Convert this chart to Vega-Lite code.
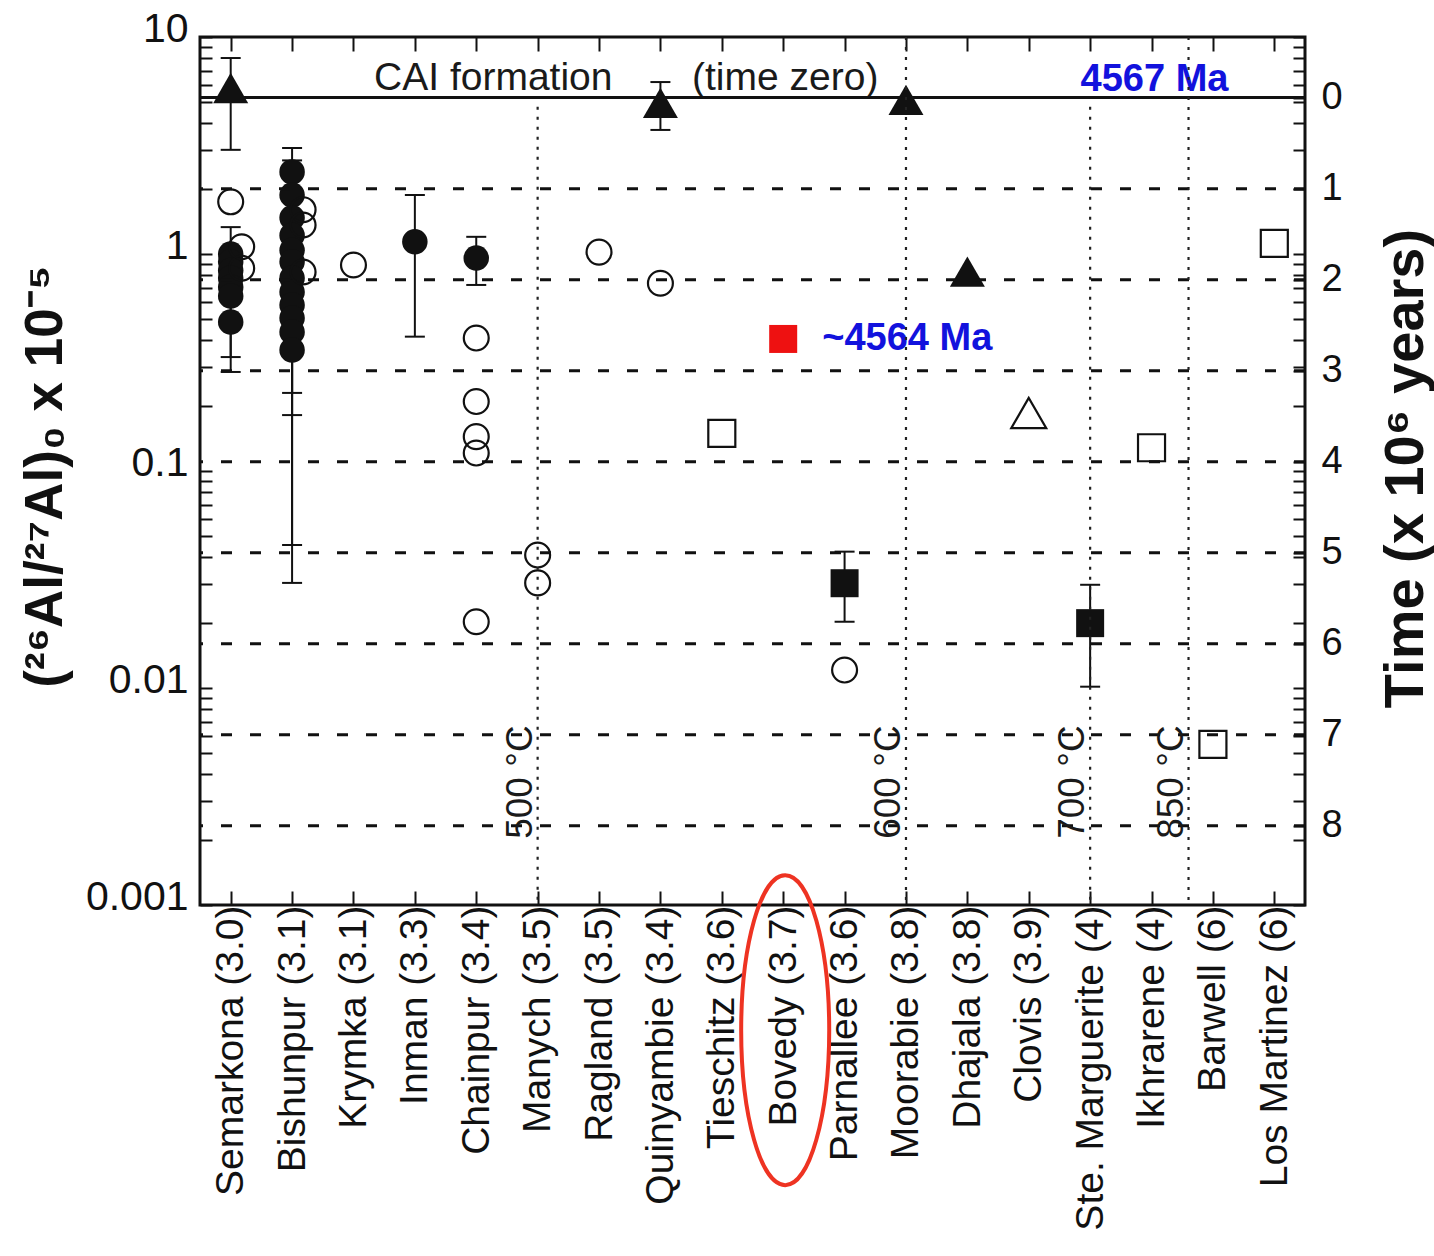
{
"$schema":"https://vega.github.io/schema/vega-lite/v6.json",
"width":1105,"height":868,"autosize":"none",
"padding":{"left":200,"top":37,"right":129,"bottom":351},
"background":"white",
"config":{"view":{"stroke":"#111","strokeWidth":3},"font":"Liberation Sans","axis":{"labelFont":"Liberation Sans","titleFont":"Liberation Sans","labelColor":"#111","titleColor":"#111","tickColor":"#111","labelOverlap":false},"text":{"font":"Liberation Sans"}},
"datasets":{
"points":[
{"name":"Semarkona (3.0)","v":5.82,"kind":"filled triangle"},
{"name":"Semarkona (3.0)","v":1.74,"kind":"open circle"},
{"name":"Semarkona (3.0)","v":1.0,"kind":"filled circle"},
{"name":"Semarkona (3.0)","v":0.92,"kind":"filled circle"},
{"name":"Semarkona (3.0)","v":0.84,"kind":"filled circle"},
{"name":"Semarkona (3.0)","v":0.775,"kind":"filled circle"},
{"name":"Semarkona (3.0)","v":0.705,"kind":"filled circle"},
{"name":"Semarkona (3.0)","v":0.64,"kind":"filled circle"},
{"name":"Semarkona (3.0)","v":0.486,"kind":"filled circle"},
{"name":"Semarkona (3.0)","v":1.08,"kind":"open circle"},
{"name":"Semarkona (3.0)","v":0.86,"kind":"open circle"},
{"name":"Bishunpur (3.1)","v":2.39,"kind":"filled circle"},
{"name":"Bishunpur (3.1)","v":1.87,"kind":"filled circle"},
{"name":"Bishunpur (3.1)","v":1.47,"kind":"filled circle"},
{"name":"Bishunpur (3.1)","v":1.22,"kind":"filled circle"},
{"name":"Bishunpur (3.1)","v":1.04,"kind":"filled circle"},
{"name":"Bishunpur (3.1)","v":0.92,"kind":"filled circle"},
{"name":"Bishunpur (3.1)","v":0.775,"kind":"filled circle"},
{"name":"Bishunpur (3.1)","v":0.668,"kind":"filled circle"},
{"name":"Bishunpur (3.1)","v":0.582,"kind":"filled circle"},
{"name":"Bishunpur (3.1)","v":0.507,"kind":"filled circle"},
{"name":"Bishunpur (3.1)","v":0.437,"kind":"filled circle"},
{"name":"Bishunpur (3.1)","v":0.361,"kind":"filled circle"},
{"name":"Bishunpur (3.1)","v":1.6,"kind":"open circle"},
{"name":"Bishunpur (3.1)","v":1.36,"kind":"open circle"},
{"name":"Bishunpur (3.1)","v":0.826,"kind":"open circle"},
{"name":"Krymka (3.1)","v":0.89,"kind":"open circle"},
{"name":"Inman (3.3)","v":1.14,"kind":"filled circle"},
{"name":"Chainpur (3.4)","v":0.958,"kind":"filled circle"},
{"name":"Chainpur (3.4)","v":0.41,"kind":"open circle"},
{"name":"Chainpur (3.4)","v":0.209,"kind":"open circle"},
{"name":"Chainpur (3.4)","v":0.144,"kind":"open circle"},
{"name":"Chainpur (3.4)","v":0.121,"kind":"open circle"},
{"name":"Chainpur (3.4)","v":0.0202,"kind":"open circle"},
{"name":"Manych (3.5)","v":0.041,"kind":"open circle"},
{"name":"Manych (3.5)","v":0.0305,"kind":"open circle"},
{"name":"Ragland (3.5)","v":1.02,"kind":"open circle"},
{"name":"Quinyambie (3.4)","v":4.97,"kind":"filled triangle"},
{"name":"Quinyambie (3.4)","v":0.733,"kind":"open circle"},
{"name":"Tieschitz (3.6)","v":0.149,"kind":"open square"},
{"name":"Bovedy (3.7)","v":0.406,"kind":"red square"},
{"name":"Parnallee (3.6)","v":0.0304,"kind":"filled square"},
{"name":"Parnallee (3.6)","v":0.0121,"kind":"open circle"},
{"name":"Moorabie (3.8)","v":5.13,"kind":"filled triangle"},
{"name":"Dhajala (3.8)","v":0.83,"kind":"filled triangle"},
{"name":"Clovis (3.9)","v":0.185,"kind":"open triangle"},
{"name":"Ste. Marguerite (4)","v":0.0199,"kind":"filled square"},
{"name":"Ikhrarene (4)","v":0.128,"kind":"open square"},
{"name":"Barwell (6)","v":0.0055,"kind":"open square"},
{"name":"Los Martinez (6)","v":1.12,"kind":"open square"}
],
"errors":[
{"name":"Semarkona (3.0)","lo":3.02,"hi":8.0},
{"name":"Semarkona (3.0)","lo":0.286,"hi":1.33},
{"name":"Semarkona (3.0)","lo":0.335,"hi":1.0},
{"name":"Bishunpur (3.1)","lo":0.0305,"hi":3.08},
{"name":"Bishunpur (3.1)","lo":0.0456,"hi":2.7},
{"name":"Bishunpur (3.1)","lo":0.181,"hi":1.0},
{"name":"Bishunpur (3.1)","lo":0.229,"hi":0.9},
{"name":"Inman (3.3)","lo":0.416,"hi":1.87},
{"name":"Chainpur (3.4)","lo":0.72,"hi":1.2},
{"name":"Quinyambie (3.4)","lo":3.73,"hi":6.2},
{"name":"Parnallee (3.6)","lo":0.0202,"hi":0.0425},
{"name":"Ste. Marguerite (4)","lo":0.01014,"hi":0.0299}
],
"notes":[
{"name":"Chainpur (3.4)","v":6.5,"text":"CAI formation"},
{"name":"Bovedy (3.7)","v":6.5,"text":"(time zero)"},
{"name":"Ikhrarene (4)","v":6.34,"text":"4567 Ma"},
{"name":"Bovedy (3.7)","v":0.406,"text":"~4564 Ma"}
],
"highlight":[{"name":"Bovedy (3.7)","v":0.000265}],
"times":[{"t":0},{"t":1},{"t":2},{"t":3},{"t":4},{"t":5},{"t":6},{"t":7},{"t":8}],
"temps":[
{"name":"Manych (3.5)","temp":"500 °C"},
{"name":"Moorabie (3.8)","temp":"600 °C"},
{"name":"Ste. Marguerite (4)","temp":"700 °C"},
{"name":"Ikhrarene (4)","temp":"850 °C"}
]
},
"layer":[
{
"encoding":{
"x":{"field":"name","type":"nominal","scale":{"type":"point","padding":0.5,"domain":["Semarkona (3.0)","Bishunpur (3.1)","Krymka (3.1)","Inman (3.3)","Chainpur (3.4)","Manych (3.5)","Ragland (3.5)","Quinyambie (3.4)","Tieschitz (3.6)","Bovedy (3.7)","Parnallee (3.6)","Moorabie (3.8)","Dhajala (3.8)","Clovis (3.9)","Ste. Marguerite (4)","Ikhrarene (4)","Barwell (6)","Los Martinez (6)"]},
"axis":{"orient":"bottom","title":null,"labelAngle":270,"labelFontSize":39,"labelPadding":14,"tickSize":-14,"tickWidth":2,"domain":false,"grid":false,"labelLimit":600,"labelOverlap":false}},
"y":{"field":"v","type":"quantitative","scale":{"type":"log","domain":[0.001,10],"nice":false},
"axis":{"orient":"left","title":"(²⁶Al/²⁷Al)₀ x 10⁻⁵","values":[0.001,0.002,0.003,0.004,0.005,0.006,0.007,0.008,0.009,0.01,0.02,0.03,0.04,0.05,0.06,0.07,0.08,0.09,0.1,0.2,0.3,0.4,0.5,0.6,0.7,0.8,0.9,1,2,3,4,5,6,7,8,9,10],"format":"~g","labelExpr":"(datum.value == 0.001 || datum.value == 0.01 || datum.value == 0.1 || datum.value == 1 || datum.value == 10) ? datum.label : ''","labelFontSize":41,"labelPadding":24,"labelOffset":-8,"tickSize":-12,"tickWidth":2,"domain":false,"grid":false,"labelOverlap":false,"labelFlush":false,"titleFontSize":53,"titleFontWeight":"bold","titleAngle":270,"titleX":-155,"titleY":439,"titleAlign":"center","titleBaseline":"middle"}}
},
"layer":[
{"data":{"name":"errors"},"mark":{"type":"rule","color":"#111","strokeWidth":2},
"encoding":{"y":{"field":"lo","type":"quantitative","scale":{"type":"log","domain":[0.001,10],"nice":false},"axis":{"orient":"left","title":"(²⁶Al/²⁷Al)₀ x 10⁻⁵","values":[0.001,0.002,0.003,0.004,0.005,0.006,0.007,0.008,0.009,0.01,0.02,0.03,0.04,0.05,0.06,0.07,0.08,0.09,0.1,0.2,0.3,0.4,0.5,0.6,0.7,0.8,0.9,1,2,3,4,5,6,7,8,9,10],"format":"~g","labelExpr":"(datum.value == 0.001 || datum.value == 0.01 || datum.value == 0.1 || datum.value == 1 || datum.value == 10) ? datum.label : ''","labelFontSize":41,"labelPadding":24,"labelOffset":-8,"tickSize":-12,"tickWidth":2,"domain":false,"grid":false,"labelOverlap":false,"labelFlush":false,"titleFontSize":53,"titleFontWeight":"bold","titleAngle":270,"titleX":-155,"titleY":439,"titleAlign":"center","titleBaseline":"middle"}},"y2":{"field":"hi"}}},
{"data":{"name":"errors"},"mark":{"type":"tick","color":"#111","thickness":2,"size":20,"opacity":1},
"encoding":{"y":{"field":"lo","type":"quantitative","scale":{"type":"log","domain":[0.001,10],"nice":false},"axis":{"orient":"left","title":"(²⁶Al/²⁷Al)₀ x 10⁻⁵","values":[0.001,0.002,0.003,0.004,0.005,0.006,0.007,0.008,0.009,0.01,0.02,0.03,0.04,0.05,0.06,0.07,0.08,0.09,0.1,0.2,0.3,0.4,0.5,0.6,0.7,0.8,0.9,1,2,3,4,5,6,7,8,9,10],"format":"~g","labelExpr":"(datum.value == 0.001 || datum.value == 0.01 || datum.value == 0.1 || datum.value == 1 || datum.value == 10) ? datum.label : ''","labelFontSize":41,"labelPadding":24,"labelOffset":-8,"tickSize":-12,"tickWidth":2,"domain":false,"grid":false,"labelOverlap":false,"labelFlush":false,"titleFontSize":53,"titleFontWeight":"bold","titleAngle":270,"titleX":-155,"titleY":439,"titleAlign":"center","titleBaseline":"middle"}}}},
{"data":{"name":"errors"},"mark":{"type":"tick","color":"#111","thickness":2,"size":20,"opacity":1},
"encoding":{"y":{"field":"hi","type":"quantitative","scale":{"type":"log","domain":[0.001,10],"nice":false},"axis":{"orient":"left","title":"(²⁶Al/²⁷Al)₀ x 10⁻⁵","values":[0.001,0.002,0.003,0.004,0.005,0.006,0.007,0.008,0.009,0.01,0.02,0.03,0.04,0.05,0.06,0.07,0.08,0.09,0.1,0.2,0.3,0.4,0.5,0.6,0.7,0.8,0.9,1,2,3,4,5,6,7,8,9,10],"format":"~g","labelExpr":"(datum.value == 0.001 || datum.value == 0.01 || datum.value == 0.1 || datum.value == 1 || datum.value == 10) ? datum.label : ''","labelFontSize":41,"labelPadding":24,"labelOffset":-8,"tickSize":-12,"tickWidth":2,"domain":false,"grid":false,"labelOverlap":false,"labelFlush":false,"titleFontSize":53,"titleFontWeight":"bold","titleAngle":270,"titleX":-155,"titleY":439,"titleAlign":"center","titleBaseline":"middle"}}}},
{"data":{"name":"points"},"transform":[{"filter":"datum.kind == 'filled circle'"}],"mark":{"type":"point","shape":"circle","filled":true,"size":650,"color":"#111","opacity":1}},
{"data":{"name":"points"},"transform":[{"filter":"datum.kind == 'open circle' && !((datum.name == 'Semarkona (3.0)' && datum.v < 1.5) || datum.name == 'Bishunpur (3.1)')"}],"mark":{"type":"point","shape":"circle","filled":false,"size":620,"color":"#111","strokeWidth":2.2,"opacity":1}},
{"data":{"name":"points"},"transform":[{"filter":"datum.kind == 'open circle' && ((datum.name == 'Semarkona (3.0)' && datum.v < 1.5) || datum.name == 'Bishunpur (3.1)')"}],"mark":{"type":"point","shape":"circle","filled":false,"size":620,"color":"#111","strokeWidth":2.2,"opacity":1,"xOffset":11}},
{"data":{"name":"points"},"transform":[{"filter":"datum.kind == 'filled triangle'"}],"mark":{"type":"point","shape":"triangle-up","filled":true,"size":1225,"color":"#111","opacity":1}},
{"data":{"name":"points"},"transform":[{"filter":"datum.kind == 'open triangle'"}],"mark":{"type":"point","shape":"triangle-up","filled":false,"size":1225,"color":"#111","strokeWidth":2.2,"opacity":1}},
{"data":{"name":"points"},"transform":[{"filter":"datum.kind == 'filled square'"}],"mark":{"type":"point","shape":"square","filled":true,"size":784,"color":"#111","opacity":1}},
{"data":{"name":"points"},"transform":[{"filter":"datum.kind == 'open square'"}],"mark":{"type":"point","shape":"square","filled":false,"size":730,"color":"#111","strokeWidth":2.2,"opacity":1}},
{"data":{"name":"points"},"transform":[{"filter":"datum.kind == 'red square'"}],"mark":{"type":"point","shape":"square","filled":true,"size":784,"color":"#ee1111","opacity":1}},
{"data":{"name":"notes"},"transform":[{"filter":"datum.text == 'CAI formation'"}],"mark":{"type":"text","fontSize":39,"color":"#1a1a1a","align":"center","baseline":"middle","dx":17},"encoding":{"text":{"field":"text"}}},
{"data":{"name":"notes"},"transform":[{"filter":"datum.text == '(time zero)'"}],"mark":{"type":"text","fontSize":39,"color":"#1a1a1a","align":"center","baseline":"middle","dx":2},"encoding":{"text":{"field":"text"}}},
{"data":{"name":"notes"},"transform":[{"filter":"datum.text == '4567 Ma'"}],"mark":{"type":"text","fontSize":38,"fontWeight":"bold","color":"#1212dd","align":"center","baseline":"middle","dx":3},"encoding":{"text":{"field":"text"}}},
{"data":{"name":"notes"},"transform":[{"filter":"datum.text == '~4564 Ma'"}],"mark":{"type":"text","fontSize":38,"fontWeight":"bold","color":"#1212dd","align":"left","baseline":"middle","dx":39},"encoding":{"text":{"field":"text"}}},
{"data":{"name":"highlight"},"mark":{"type":"point","shape":"M -0.284 0 A 0.284 1 0 1 0 0.284 0 A 0.284 1 0 1 0 -0.284 0 Z","size":96100,"filled":false,"color":"#ee3322","strokeWidth":4,"opacity":1,"xOffset":2}}
]
},
{
"layer":[
{"data":{"name":"times"},"transform":[{"filter":"datum.t > 0"}],"mark":{"type":"rule","color":"#111","strokeWidth":3,"strokeDash":[11,18]},
"encoding":{"y":{"field":"t","type":"quantitative","scale":{"type":"linear","domain":[-0.666,8.871],"reverse":true,"nice":false,"zero":false},
"axis":{"orient":"right","title":"Time (x 10⁶ years)","values":[-0.6658,-0.5567,-0.4347,-0.2965,-0.1369,0,0.0519,0.2829,0.5808,1,1.0006,1.7183,1.8274,1.9494,2,2.0876,2.2472,2.436,2.667,2.9649,3,3.3847,4,4.1024,4.2115,4.3335,4.4717,4.6313,4.8201,5,5.0511,5.349,5.7688,6,6.4865,6.5956,6.7176,6.8558,7,7.0154,7.2042,7.4352,7.7331,8,8.1529,8.8706],"labelExpr":"datum.value == floor(datum.value) ? format(datum.value, 'd') : ''","labelFontSize":38,"labelPadding":28,"tickSize":-12,"tickWidth":2,"domain":false,"grid":false,"labelOverlap":false,"labelFlush":false,"titleFontSize":56,"titleFontWeight":"bold","titleAngle":270,"titleX":100,"titleY":431,"titleAlign":"center","titleBaseline":"middle"}}}},
{"data":{"name":"times"},"transform":[{"filter":"datum.t == 0"}],"mark":{"type":"rule","color":"#111","strokeWidth":3},
"encoding":{"y":{"field":"t","type":"quantitative","scale":{"type":"linear","domain":[-0.666,8.871],"reverse":true,"nice":false,"zero":false},
"axis":{"orient":"right","title":"Time (x 10⁶ years)","values":[-0.6658,-0.5567,-0.4347,-0.2965,-0.1369,0,0.0519,0.2829,0.5808,1,1.0006,1.7183,1.8274,1.9494,2,2.0876,2.2472,2.436,2.667,2.9649,3,3.3847,4,4.1024,4.2115,4.3335,4.4717,4.6313,4.8201,5,5.0511,5.349,5.7688,6,6.4865,6.5956,6.7176,6.8558,7,7.0154,7.2042,7.4352,7.7331,8,8.1529,8.8706],"labelExpr":"datum.value == floor(datum.value) ? format(datum.value, 'd') : ''","labelFontSize":38,"labelPadding":28,"tickSize":-12,"tickWidth":2,"domain":false,"grid":false,"labelOverlap":false,"labelFlush":false,"titleFontSize":56,"titleFontWeight":"bold","titleAngle":270,"titleX":100,"titleY":431,"titleAlign":"center","titleBaseline":"middle"}}}},
{"data":{"name":"temps"},"transform":[{"filter":"datum.temp == '500 °C' || datum.temp == '700 °C'"}],"mark":{"type":"rule","color":"#222","strokeWidth":2.2,"strokeDash":[3,7]},
"encoding":{"x":{"field":"name","type":"nominal","scale":{"type":"point","padding":0.5,"domain":["Semarkona (3.0)","Bishunpur (3.1)","Krymka (3.1)","Inman (3.3)","Chainpur (3.4)","Manych (3.5)","Ragland (3.5)","Quinyambie (3.4)","Tieschitz (3.6)","Bovedy (3.7)","Parnallee (3.6)","Moorabie (3.8)","Dhajala (3.8)","Clovis (3.9)","Ste. Marguerite (4)","Ikhrarene (4)","Barwell (6)","Los Martinez (6)"]},"axis":{"orient":"top","title":null,"labels":false,"tickSize":-14,"tickWidth":2,"domain":false,"grid":false}},
"y":{"datum":0.1,"type":"quantitative","scale":{"type":"linear","domain":[-0.666,8.871],"reverse":true,"nice":false,"zero":false},
"axis":{"orient":"right","title":"Time (x 10⁶ years)","values":[-0.6658,-0.5567,-0.4347,-0.2965,-0.1369,0,0.0519,0.2829,0.5808,1,1.0006,1.7183,1.8274,1.9494,2,2.0876,2.2472,2.436,2.667,2.9649,3,3.3847,4,4.1024,4.2115,4.3335,4.4717,4.6313,4.8201,5,5.0511,5.349,5.7688,6,6.4865,6.5956,6.7176,6.8558,7,7.0154,7.2042,7.4352,7.7331,8,8.1529,8.8706],"labelExpr":"datum.value == floor(datum.value) ? format(datum.value, 'd') : ''","labelFontSize":38,"labelPadding":28,"tickSize":-12,"tickWidth":2,"domain":false,"grid":false,"labelOverlap":false,"labelFlush":false,"titleFontSize":56,"titleFontWeight":"bold","titleAngle":270,"titleX":100,"titleY":431,"titleAlign":"center","titleBaseline":"middle"}},"y2":{"datum":8.871}}},
{"data":{"name":"temps"},"transform":[{"filter":"datum.temp == '600 °C'"}],"mark":{"type":"rule","color":"#222","strokeWidth":2.2,"strokeDash":[3,7]},
"encoding":{"x":{"field":"name","type":"nominal","scale":{"type":"point","padding":0.5,"domain":["Semarkona (3.0)","Bishunpur (3.1)","Krymka (3.1)","Inman (3.3)","Chainpur (3.4)","Manych (3.5)","Ragland (3.5)","Quinyambie (3.4)","Tieschitz (3.6)","Bovedy (3.7)","Parnallee (3.6)","Moorabie (3.8)","Dhajala (3.8)","Clovis (3.9)","Ste. Marguerite (4)","Ikhrarene (4)","Barwell (6)","Los Martinez (6)"]},"axis":{"orient":"top","title":null,"labels":false,"tickSize":-14,"tickWidth":2,"domain":false,"grid":false}}}},
{"data":{"name":"temps"},"transform":[{"filter":"datum.temp == '850 °C'"}],"mark":{"type":"rule","color":"#222","strokeWidth":2.2,"strokeDash":[3,7],"xOffset":37},
"encoding":{"x":{"field":"name","type":"nominal","scale":{"type":"point","padding":0.5,"domain":["Semarkona (3.0)","Bishunpur (3.1)","Krymka (3.1)","Inman (3.3)","Chainpur (3.4)","Manych (3.5)","Ragland (3.5)","Quinyambie (3.4)","Tieschitz (3.6)","Bovedy (3.7)","Parnallee (3.6)","Moorabie (3.8)","Dhajala (3.8)","Clovis (3.9)","Ste. Marguerite (4)","Ikhrarene (4)","Barwell (6)","Los Martinez (6)"]},"axis":{"orient":"top","title":null,"labels":false,"tickSize":-14,"tickWidth":2,"domain":false,"grid":false}}}},
{"data":{"name":"temps"},"transform":[{"filter":"datum.temp != '850 °C'"}],"mark":{"type":"text","fontSize":37,"color":"#1a1a1a","angle":270,"align":"center","baseline":"alphabetic","dy":-6},
"encoding":{"x":{"field":"name","type":"nominal","scale":{"type":"point","padding":0.5,"domain":["Semarkona (3.0)","Bishunpur (3.1)","Krymka (3.1)","Inman (3.3)","Chainpur (3.4)","Manych (3.5)","Ragland (3.5)","Quinyambie (3.4)","Tieschitz (3.6)","Bovedy (3.7)","Parnallee (3.6)","Moorabie (3.8)","Dhajala (3.8)","Clovis (3.9)","Ste. Marguerite (4)","Ikhrarene (4)","Barwell (6)","Los Martinez (6)"]},"axis":{"orient":"top","title":null,"labels":false,"tickSize":-14,"tickWidth":2,"domain":false,"grid":false}},
"y":{"datum":7.52,"type":"quantitative","scale":{"type":"linear","domain":[-0.666,8.871],"reverse":true,"nice":false,"zero":false},
"axis":{"orient":"right","title":"Time (x 10⁶ years)","values":[-0.6658,-0.5567,-0.4347,-0.2965,-0.1369,0,0.0519,0.2829,0.5808,1,1.0006,1.7183,1.8274,1.9494,2,2.0876,2.2472,2.436,2.667,2.9649,3,3.3847,4,4.1024,4.2115,4.3335,4.4717,4.6313,4.8201,5,5.0511,5.349,5.7688,6,6.4865,6.5956,6.7176,6.8558,7,7.0154,7.2042,7.4352,7.7331,8,8.1529,8.8706],"labelExpr":"datum.value == floor(datum.value) ? format(datum.value, 'd') : ''","labelFontSize":38,"labelPadding":28,"tickSize":-12,"tickWidth":2,"domain":false,"grid":false,"labelOverlap":false,"labelFlush":false,"titleFontSize":56,"titleFontWeight":"bold","titleAngle":270,"titleX":100,"titleY":431,"titleAlign":"center","titleBaseline":"middle"}},"text":{"field":"temp"}}},
{"data":{"name":"temps"},"transform":[{"filter":"datum.temp == '850 °C'"}],"mark":{"type":"text","fontSize":37,"color":"#1a1a1a","angle":270,"align":"center","baseline":"alphabetic","dy":-6,"xOffset":37},
"encoding":{"x":{"field":"name","type":"nominal","scale":{"type":"point","padding":0.5,"domain":["Semarkona (3.0)","Bishunpur (3.1)","Krymka (3.1)","Inman (3.3)","Chainpur (3.4)","Manych (3.5)","Ragland (3.5)","Quinyambie (3.4)","Tieschitz (3.6)","Bovedy (3.7)","Parnallee (3.6)","Moorabie (3.8)","Dhajala (3.8)","Clovis (3.9)","Ste. Marguerite (4)","Ikhrarene (4)","Barwell (6)","Los Martinez (6)"]},"axis":{"orient":"top","title":null,"labels":false,"tickSize":-14,"tickWidth":2,"domain":false,"grid":false}},
"y":{"datum":7.52,"type":"quantitative","scale":{"type":"linear","domain":[-0.666,8.871],"reverse":true,"nice":false,"zero":false},
"axis":{"orient":"right","title":"Time (x 10⁶ years)","values":[-0.6658,-0.5567,-0.4347,-0.2965,-0.1369,0,0.0519,0.2829,0.5808,1,1.0006,1.7183,1.8274,1.9494,2,2.0876,2.2472,2.436,2.667,2.9649,3,3.3847,4,4.1024,4.2115,4.3335,4.4717,4.6313,4.8201,5,5.0511,5.349,5.7688,6,6.4865,6.5956,6.7176,6.8558,7,7.0154,7.2042,7.4352,7.7331,8,8.1529,8.8706],"labelExpr":"datum.value == floor(datum.value) ? format(datum.value, 'd') : ''","labelFontSize":38,"labelPadding":28,"tickSize":-12,"tickWidth":2,"domain":false,"grid":false,"labelOverlap":false,"labelFlush":false,"titleFontSize":56,"titleFontWeight":"bold","titleAngle":270,"titleX":100,"titleY":431,"titleAlign":"center","titleBaseline":"middle"}},"text":{"field":"temp"}}}
]
}
],
"resolve":{"scale":{"y":"independent"},"axis":{"x":"independent","y":"independent"}}
}
